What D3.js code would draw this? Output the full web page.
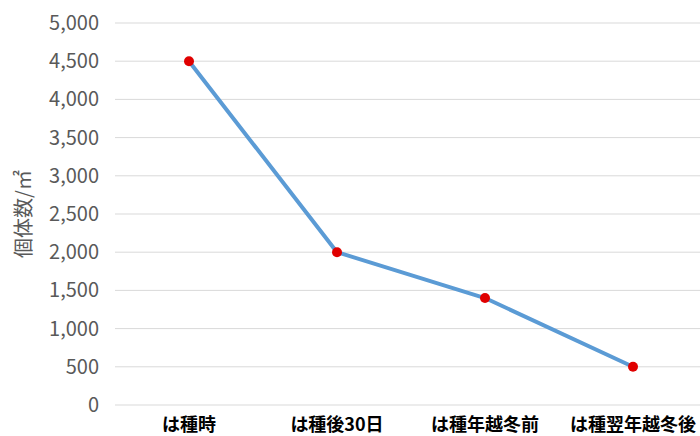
<!DOCTYPE html>
<html><head><meta charset="utf-8">
<script src="https://cdn.jsdelivr.net/npm/d3@7"></script>
<style>body{margin:0;background:#fff;}svg{display:block;}</style>
</head><body>
<script>
const categories = ["は種時", "は種後30日", "は種年越冬前", "は種翌年越冬後"];
const values = [4500, 2000, 1400, 500];
const yTicks = [0, 500, 1000, 1500, 2000, 2500, 3000, 3500, 4000, 4500, 5000];
const yTitle = "個体数/㎡";

const W = 700, H = 436;
const m = {left: 115, right: -7, top: 23, bottom: 31};
const svg = d3.select("body").append("svg").attr("width", W).attr("height", H);
const x = d3.scaleBand().domain(categories).range([m.left, W - m.right]);
const y = d3.scaleLinear().domain([0, 5000]).range([H - m.bottom, m.top]);

svg.append("g").selectAll("line").data(yTicks).join("line")
  .attr("x1", m.left).attr("x2", W).attr("y1", d => y(d)).attr("y2", d => y(d))
  .attr("stroke", "#d9d9d9").attr("stroke-width", 1);

const ya = svg.append("g").attr("transform", `translate(${m.left},0)`)
  .call(d3.axisLeft(y).tickValues(yTicks).tickFormat(d3.format(",")).tickSize(0).tickPadding(16));
ya.select(".domain").remove();
ya.selectAll("text").attr("font-family", "'Noto Sans CJK JP', sans-serif").attr("font-size", 20).attr("fill", "#595959");

const xa = svg.append("g").attr("transform", `translate(0,${H - m.bottom})`)
  .call(d3.axisBottom(x).tickSize(0).tickPadding(13));
xa.select(".domain").remove();
xa.selectAll("text").attr("font-family", "'Noto Sans CJK JP', sans-serif").attr("font-size", 18).attr("font-weight", "bold").attr("fill", "#000");

svg.append("text").attr("transform", `translate(22,214) rotate(-90)`).attr("text-anchor", "middle")
  .attr("dominant-baseline", "central")
  .attr("font-family", "'Noto Sans CJK JP', sans-serif").attr("font-size", 20).attr("fill", "#595959").text(yTitle);

const pts = categories.map((c, i) => ({c, v: values[i]}));
svg.append("path").datum(pts)
  .attr("d", d3.line().x(d => x(d.c) + x.bandwidth() / 2).y(d => y(d.v)))
  .attr("fill", "none").attr("stroke", "#5B9BD5").attr("stroke-width", 4).attr("stroke-linejoin", "round");
svg.append("g").selectAll("circle").data(pts).join("circle")
  .attr("cx", d => x(d.c) + x.bandwidth() / 2).attr("cy", d => y(d.v)).attr("r", 5)
  .attr("fill", "#e00000");
</script>
</body></html>
